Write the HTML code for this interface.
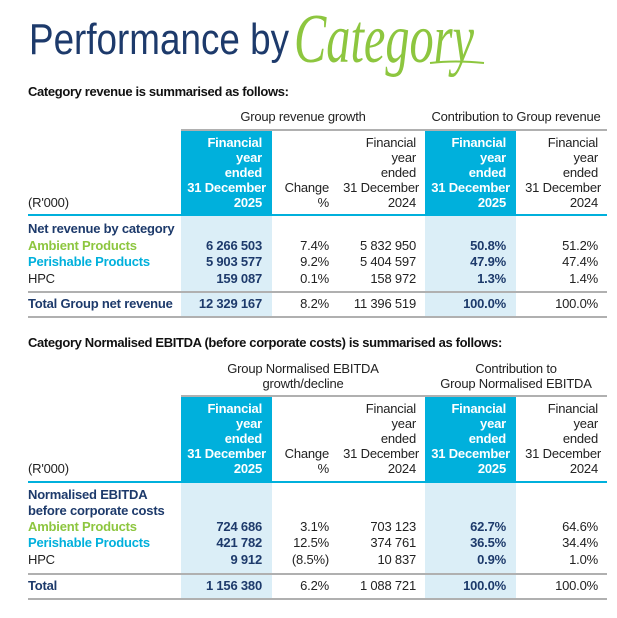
<!DOCTYPE html>
<html><head><meta charset="utf-8"><style>
html,body{margin:0;padding:0;background:#fff;}
#root{position:relative;width:617px;height:618px;overflow:hidden;font-family:"Liberation Sans",Arial,sans-serif;color:#222;}
.t{position:absolute;white-space:nowrap;line-height:16px;height:16px;font-size:13px;letter-spacing:-0.2px;}
.r{text-align:right;}
.c{text-align:center;}
.box{position:absolute;}
</style></head><body>
<div id="root">
<svg style="position:absolute;left:0;top:0" width="617" height="100">
<text x="29" y="54" font-family="Liberation Sans, sans-serif" font-size="44" fill="#1d3a6b" textLength="260" lengthAdjust="spacingAndGlyphs">Performance by</text>
<text x="294" y="62" font-family="Liberation Serif, serif" font-style="italic" font-size="70" fill="#8dc63f" textLength="180" lengthAdjust="spacingAndGlyphs">Category</text>
<path d="M430 63 Q455 60 484 63" stroke="#8dc63f" stroke-width="2" fill="none"/>
</svg>
</div>
<script>
const NAVY='#1d3a6b', CYAN='#00b0dc', LIGHT='#dbeef7', GREEN='#8dc63f', GRAY='#b0b0b0';
const root=document.getElementById('root');
const cols=[{l:181,r:272,blue:true},{l:272,r:336},{l:336,r:425},{l:425,r:516,blue:true},{l:516,r:607}];
const rightEdge=[262,329,416,506,598];

const t1Labels=['Net revenue by category','Ambient Products','Perishable Products','HPC'];
const t1Cur=['','6 266 503','5 903 577','159 087'];
const t1Chg=['','7.4%','9.2%','0.1%'];
const t1Prev=['','5 832 950','5 404 597','158 972'];
const t1ContCur=['','50.8%','47.9%','1.3%'];
const t1ContPrev=['','51.2%','47.4%','1.4%'];
const t1Total=['Total Group net revenue','12 329 167','8.2%','11 396 519','100.0%','100.0%'];

const t2Labels=['Normalised EBITDA','before corporate costs','Ambient Products','Perishable Products','HPC'];
const t2Cur=['','','724 686','421 782','9 912'];
const t2Chg=['','','3.1%','12.5%','(8.5%)'];
const t2Prev=['','','703 123','374 761','10 837'];
const t2ContCur=['','','62.7%','36.5%','0.9%'];
const t2ContPrev=['','','64.6%','34.4%','1.0%'];
const t2Total=['Total','1 156 380','6.2%','1 088 721','100.0%','100.0%'];

function text(str,x,y,name,o){
  o=o||{};
  const d=document.createElement('div');
  d.className='t';
  d.textContent=str;
  
  
  if(o.right){d.classList.add('r');d.style.left=(x-200)+'px';d.style.width='200px';}
  else if(o.center){d.classList.add('c');d.style.left=(x-150)+'px';d.style.width='300px';}
  else d.style.left=x+'px';
  d.style.top=(y-8)+'px';
  if(o.bold)d.style.fontWeight='bold';
  if(o.color)d.style.color=o.color;
  if(o.size)d.style.fontSize=o.size+'px';
  if(o.ls!==undefined)d.style.letterSpacing=o.ls+'px';
  root.appendChild(d);return d;
}
function box(x,y,w,h,bg,name){
  const d=document.createElement('div');
  d.className='box';
  d.style.cssText+=`left:${x}px;top:${y}px;width:${w}px;height:${h}px;background:${bg}`;
  
  
  root.appendChild(d);return d;
}
function labelColor(s){
  if(s==='Ambient Products')return GREEN;
  if(s==='Perishable Products')return CYAN;
  if(s==='HPC')return '#222';
  return NAVY;
}
function table(o){
  const p=o.prefix;
  text(o.subtitle,28,o.subY,p+'-subtitle',{size:13,bold:true,ls:-0.35,color:'#111'});
  o.groupLines1.forEach((s,i)=>text(s,(cols[0].l+cols[2].r)/2,o.groupY+i*15,p+'-group-growth-header',{center:true}));
  o.groupLines2.forEach((s,i)=>text(s,(cols[3].l+cols[4].r)/2,o.groupY+i*15,p+'-group-contribution-header',{center:true}));
  box(181,o.hTop,426,2,GRAY,p+'-top-rule');
  box(cols[0].l,o.hTop+2,cols[0].r-cols[0].l,o.hBot-o.hTop-2,CYAN,p+'-current-year-header-bg');
  box(cols[3].l,o.hTop+2,cols[3].r-cols[3].l,o.hBot-o.hTop-2,CYAN,p+'-current-contribution-header-bg');
  box(cols[0].l,o.hBot,cols[0].r-cols[0].l,o.bottom-o.hBot,LIGHT,p+'-current-year-body-bg');
  box(cols[3].l,o.hBot,cols[3].r-cols[3].l,o.bottom-o.hBot,LIGHT,p+'-current-contribution-body-bg');
  box(28,o.hBot-1,579,2,CYAN,p+'-header-rule');
  box(28,o.totalLine,579,2,GRAY,p+'-total-rule');
  box(28,o.bottom,579,2,GRAY,p+'-bottom-rule');
  const hy=o.hTop+14;
  const cur=['Financial','year','ended','31 December','2025'];
  const prev=['Financial','year','ended','31 December','2024'];
  cur.forEach((s,i)=>{text(s,rightEdge[0]+(i==3?4:0),hy+i*15,p+'-header-current-year',{right:true,bold:true,color:'#fff'});});
  cur.forEach((s,i)=>{text(s,rightEdge[3]+(i==3?4:0),hy+i*15,p+'-header-current-contribution',{right:true,bold:true,color:'#fff'});});
  prev.forEach((s,i)=>{text(s,rightEdge[2]+(i==3?3:0),hy+i*15,p+'-header-prior-year',{right:true});});
  prev.forEach((s,i)=>{text(s,rightEdge[4]+(i==3?3:0),hy+i*15,p+'-header-prior-contribution',{right:true});});
  text('Change',rightEdge[1],hy+3*15,p+'-header-change',{right:true});
  text('%',rightEdge[1],hy+4*15,p+'-header-change-pct',{right:true});
  text("(R'000)",28,hy+4*15,p+'-units-label');
  o.labels.forEach((s,i)=>{
    const y=o.rowY[i];
    text(s,28,y,p+'-row-label',{bold:s!=='HPC',color:labelColor(s)});
    if(o.cur[i])text(o.cur[i],rightEdge[0],y,p+'-current-value',{right:true,bold:true,color:NAVY});
    if(o.chg[i])text(o.chg[i],rightEdge[1],y,p+'-change-value',{right:true});
    if(o.prev[i])text(o.prev[i],rightEdge[2],y,p+'-prior-value',{right:true});
    if(o.cc[i])text(o.cc[i],rightEdge[3],y,p+'-current-contribution',{right:true,bold:true,color:NAVY});
    if(o.cp[i])text(o.cp[i],rightEdge[4],y,p+'-prior-contribution',{right:true});
  });
  const ty=o.totalY;
  text(o.total[0],28,ty,p+'-total-label',{bold:true,color:NAVY});
  text(o.total[1],rightEdge[0],ty,p+'-total-current',{right:true,bold:true,color:NAVY});
  text(o.total[2],rightEdge[1],ty,p+'-total-change',{right:true});
  text(o.total[3],rightEdge[2],ty,p+'-total-prior',{right:true});
  text(o.total[4],rightEdge[3],ty,p+'-total-current-contribution',{right:true,bold:true,color:NAVY});
  text(o.total[5],rightEdge[4],ty,p+'-total-prior-contribution',{right:true});
}
table({prefix:'revenue-table',subtitle:'Category revenue is summarised as follows:',subY:92,
  groupLines1:['Group revenue growth'],groupLines2:['Contribution to Group revenue'],groupY:117,
  hTop:129,hBot:215,bottom:316,totalLine:291,rowY:[229,246,262,279],totalY:304,
  labels:t1Labels,cur:t1Cur,chg:t1Chg,prev:t1Prev,cc:t1ContCur,cp:t1ContPrev,total:t1Total});
table({prefix:'ebitda-table',subtitle:'Category Normalised EBITDA (before corporate costs) is summarised as follows:',subY:343,
  groupLines1:['Group Normalised EBITDA','growth/decline'],groupLines2:['Contribution to','Group Normalised EBITDA'],groupY:369,
  hTop:395,hBot:482,bottom:598,totalLine:573,rowY:[495,511,527,543,560],totalY:586,
  labels:t2Labels,cur:t2Cur,chg:t2Chg,prev:t2Prev,cc:t2ContCur,cp:t2ContPrev,total:t2Total});
</script>
</body></html>
